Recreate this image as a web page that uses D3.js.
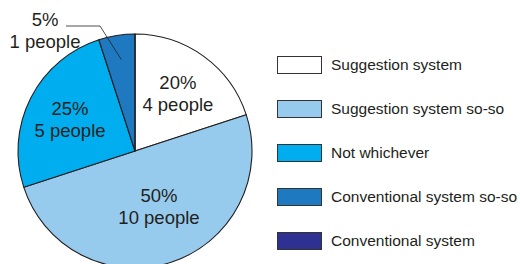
<!DOCTYPE html>
<html><head><meta charset="utf-8">
<script src="https://cdn.jsdelivr.net/npm/d3@7"></script>
<style>html,body{margin:0;padding:0;background:#fff;}svg{display:block;}</style>
</head><body>
<svg id="chart" width="520" height="264"></svg>
<script>
const categories = ["Suggestion system","Suggestion system so-so","Not whichever","Conventional system so-so","Conventional system"];
const percents = [20, 50, 25, 5, 0];
const people = [4, 10, 5, 1, 0];
const colors = ["#ffffff","#97cbee","#00aeef","#1f79c0","#2e3192"];

const svg = d3.select("#chart");
const cx = 135, cy = 151, r = 117;
const font = "'Liberation Sans', Arial, sans-serif";
const textColor = "#231f20";

const pie = d3.pie().sort(null).value(d => d)(percents);
const arc = d3.arc().innerRadius(0).outerRadius(r);
const g = svg.append("g").attr("transform", `translate(${cx},${cy})`);

g.selectAll("path").data(pie).enter().append("path")
  .attr("d", arc)
  .attr("fill", (d,i) => colors[i])
  .attr("stroke", textColor)
  .attr("stroke-width", 1.1)
  .attr("stroke-linejoin", "round");

// labels
const labelArc = d3.arc().innerRadius(r*0.58).outerRadius(r*0.58);
const fs = 18.5;
const offsets = [[3,-14],[3,-20],[-4.5,-12]];
pie.forEach((d,i) => {
  if (percents[i] === 0) return;
  let x, y;
  if (percents[i] < 10) {
    x = 45 - cx; y = 20 - cy;
    const mid = d3.arc().innerRadius(r*0.85).outerRadius(r*0.85).centroid(d);
    g.append("path")
      .attr("d", d3.line()([[66-cx, 26-cy],[100-cx, 26-cy],[mid[0]+2, mid[1]+7]]))
      .attr("fill","none").attr("stroke", textColor).attr("stroke-width", 0.8);
  } else {
    const c = labelArc.centroid(d);
    x = c[0] + offsets[i][0]; y = c[1] + offsets[i][1];
  }
  const t = g.append("text").attr("text-anchor","middle")
    .attr("font-family", font).attr("font-size", fs).attr("fill", textColor);
  t.append("tspan").attr("x", x).attr("y", y).attr("dy", "0.35em").text(percents[i] + "%");
  t.append("tspan").attr("x", x).attr("y", y + 22).attr("dy", "0.35em").text(people[i] + " people");
});

// legend
const legend = svg.append("g");
categories.forEach((c,i) => {
  const y0 = 56 + i*44;
  legend.append("rect").attr("x", 277.5).attr("y", y0 + 0.5).attr("width", 44).attr("height", 17)
    .attr("fill", colors[i]).attr("stroke", "#333").attr("stroke-width", 1);
  legend.append("text").attr("x", 331).attr("y", y0 + 9).attr("dy", "0.35em")
    .attr("font-family", font).attr("font-size", 15.5).attr("fill", textColor).text(c);
});
</script>
</body></html>
